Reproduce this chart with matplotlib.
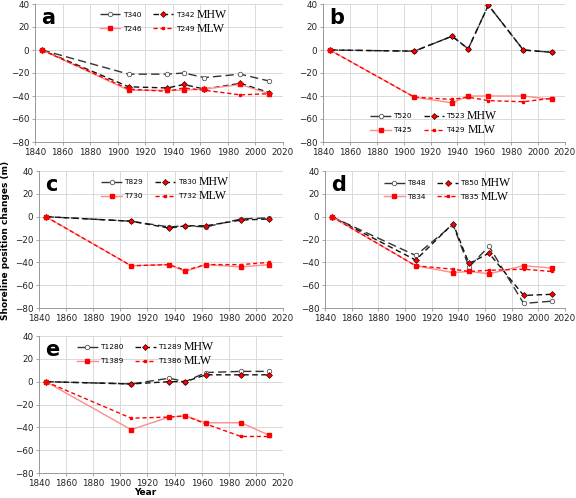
"""Shoreline position changes at MHW / MLW transects, panels a-e."""
import matplotlib
matplotlib.use("Agg")
import matplotlib.pyplot as plt

W, H = 576, 498

years = [1845, 1908, 1936, 1948, 1963, 1989, 2010]

# panel a
a_T340 = [0, -21, -21, -20, -24, -21, -27]
a_T342 = [0, -32, -33, -30, -34, -29, -37]
a_T246 = [0, -35, -35, -35, -34, -30, -38]
a_T249 = [0, -34, -36, -33, -35, -39, -38]
# panel b
b_T520 = [0, -1, 12, 1, 39, 0, -2]
b_T523 = [0, -1, 12, 1, 39, 0, -2]
b_T425 = [0, -41, -46, -40, -40, -40, -43]
b_T429 = [0, -41, -43, -41, -44, -45, -42]
# panel c
c_T829 = [0, -4, -9, -8, -9, -2, -1]
c_T830 = [0, -4, -10, -8, -8, -3, -2]
c_T730 = [0, -43, -42, -48, -42, -44, -42]
c_T732 = [0, -43, -42, -47, -42, -42, -40]
# panel d
d_T848 = [0, -34, -7, -44, -26, -76, -74]
d_T850 = [0, -38, -6, -41, -32, -69, -68]
d_T834 = [0, -43, -49, -48, -50, -43, -45]
d_T835 = [0, -43, -46, -48, -47, -46, -48]
# panel e
e_T1280 = [0, -2, 3, 0, 8, 9, 9]
e_T1289 = [0, -2, 0, 0, 6, 6, 6]
e_T1389 = [0, -42, -31, -30, -36, -36, -47]
e_T1386 = [0, -32, -31, -30, -37, -48, -48]

panels = [
    ("a", ["T340", "T342", "T246", "T249"], [a_T340, a_T342, a_T246, a_T249]),
    ("b", ["T520", "T523", "T425", "T429"], [b_T520, b_T523, b_T425, b_T429]),
    ("c", ["T829", "T830", "T730", "T732"], [c_T829, c_T830, c_T730, c_T732]),
    ("d", ["T848", "T850", "T834", "T835"], [d_T848, d_T850, d_T834, d_T835]),
    ("e", ["T1280", "T1289", "T1389", "T1386"], [e_T1280, e_T1289, e_T1389, e_T1386]),
]

# axes boxes in pixels: left, right, top, bottom
boxes = {
    "a": (35, 283, 4, 142),
    "b": (323, 565, 4, 142),
    "c": (39, 283, 171, 308),
    "d": (325, 565, 171, 308),
    "e": (39, 283, 336, 473),
}
# legend anchor (axes fraction, upper-left)
legend_pos = {
    "a": (0.255, 0.955),
    "b": (0.19, 0.22),
    "c": (0.25, 0.95),
    "d": (0.24, 0.945),
    "e": (0.15, 0.95),
}

styles = [
    dict(color="#333333", lw=1.0, dashes=(6, 3), marker="o", ms=3.2,
         mfc="white", mec="#555555", mew=0.6),
    dict(color="#111111", lw=1.0, dashes=(4, 2.5), marker="D", ms=3.0,
         mfc="red", mec="#330000", mew=0.5),
    dict(color="#ff8c8c", lw=1.0, marker="s", ms=2.8, mfc="red", mec="red"),
    dict(color="red", lw=1.0, dashes=(3, 2), marker="s", ms=2.0,
         mfc="red", mec="red"),
]

fig = plt.figure(figsize=(W / 100, H / 100), dpi=100)
legends = []

for letter, names, series in panels:
    l, r, t, b = boxes[letter]
    ax = fig.add_axes([l / W, 1 - b / H, (r - l) / W, (b - t) / H])
    handles = []
    for name, vals, st in zip(names, series, styles):
        h, = ax.plot(years, vals, label=name, **st)
        handles.append(h)
    ax.set_xlim(1840, 2020)
    ax.set_ylim(-80, 40)
    ax.set_xticks(range(1840, 2021, 20))
    ax.set_yticks(range(-80, 41, 20))
    ax.grid(True, color="#d9d9d9", lw=0.7)
    ax.set_axisbelow(True)
    for s in ("top", "right"):
        ax.spines[s].set_visible(False)
    for s in ("left", "bottom"):
        ax.spines[s].set_color("#999999")
        ax.spines[s].set_linewidth(0.7)
    ax.tick_params(labelsize=6.3, length=2.5, width=0.6, color="#999999",
                   pad=1.5, labelcolor="#222222")
    ax.text(0.025, 0.97, letter, transform=ax.transAxes, fontsize=15,
            fontweight="bold", va="top", ha="left")
    lx, ly = legend_pos[letter]
    order = [0, 2, 1, 3]
    leg = ax.legend([handles[i] for i in order], [names[i] for i in order],
                    ncol=2, loc="upper left", bbox_to_anchor=(lx, ly),
                    frameon=False, fontsize=5.3, handlelength=2.8,
                    handletextpad=0.3, columnspacing=1.6, labelspacing=1.05,
                    borderaxespad=0, borderpad=0.2)
    legends.append((ax, leg))

# put MHW / MLW right after the second legend column
fig.canvas.draw()
renderer = fig.canvas.get_renderer()
for ax, leg in legends:
    texts = leg.get_texts()
    inv = ax.transAxes.inverted()
    for txt, word in ((texts[2], "MHW"), (texts[3], "MLW")):
        bb = txt.get_window_extent(renderer)
        x0, y0 = inv.transform((bb.x1 + 2, (bb.y0 + bb.y1) / 2))
        ax.text(x0, y0, word, transform=ax.transAxes, fontsize=8.5,
                family="Liberation Serif", va="center", ha="left")

fig.text(6 / W, 1 - 240 / H, "Shoreline position changes (m)", rotation=90,
         fontsize=6.5, fontweight="bold", ha="center", va="center")
fig.text(145 / W, 1 - 492 / H, "Year", fontsize=6.5, fontweight="bold",
         ha="center", va="center")

fig.savefig("out.png", dpi=100)
